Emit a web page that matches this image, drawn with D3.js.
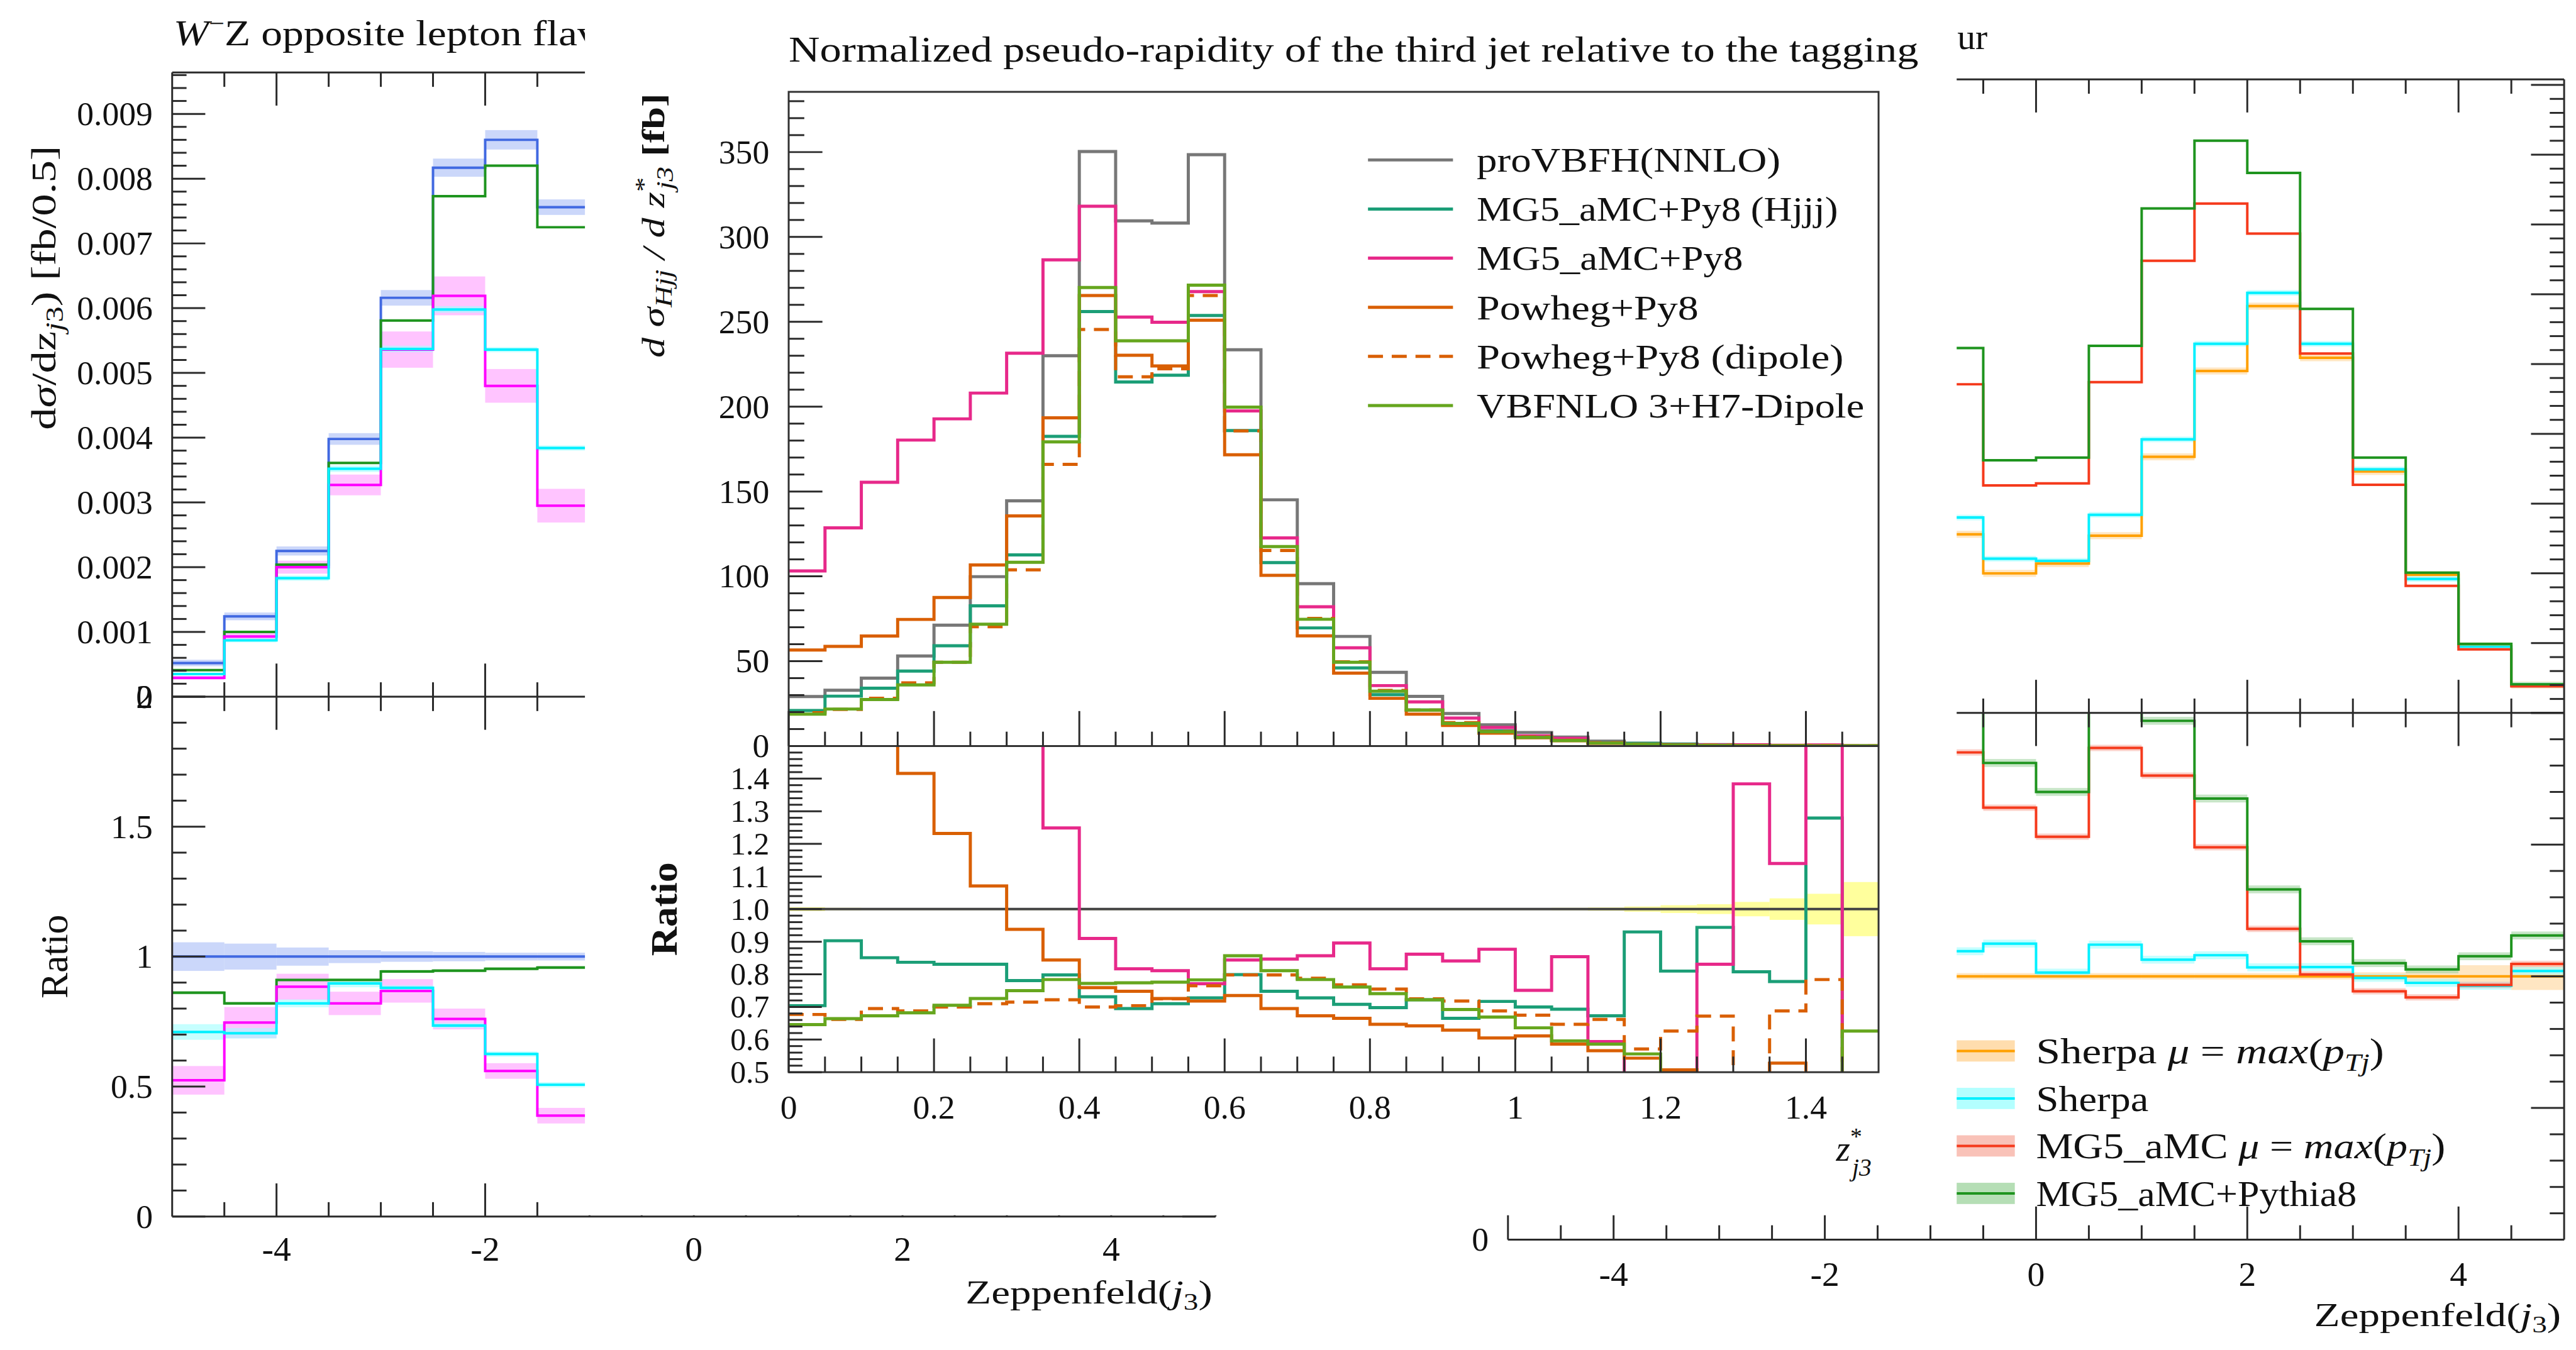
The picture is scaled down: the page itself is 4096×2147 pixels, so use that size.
<!DOCTYPE html>
<html>
<head>
<meta charset="utf-8">
<title>z*_j3 / Zeppenfeld comparison</title>
<script src="https://cdn.jsdelivr.net/npm/d3@7"></script>
<style>
body { margin: 0; background: #fff; }
svg { display: block; }
text { font-family: "Liberation Serif", "DejaVu Serif", serif; fill: #111; }
</style>
</head>
<body>
<div id="chartDiv"></div>
<script>
// ---- background, left: W-Z opposite lepton flavour (only the uncovered bins) ----
var wzEdges = [-5, -4.5, -4, -3.5, -3, -2.5, -2, -1.5, -1];
var wzBlue = [0.00052, 0.00124, 0.00225, 0.00398, 0.00616, 0.00817, 0.0086, 0.00756];
var wzBlueErr = [0.00005, 0.00006, 0.00007, 0.00009, 0.00012, 0.00014, 0.00015, 0.00012];
var wzGreen = [0.00041, 0.00100, 0.00204, 0.00361, 0.00581, 0.00773, 0.0082, 0.00725];
var wzMagenta = [0.00029, 0.00093, 0.0020, 0.00327, 0.00536, 0.00619, 0.0048, 0.00295];
var wzMagentaErr = [0.00003, 0.00007, 0.0001, 0.00016, 0.00028, 0.0003, 0.00026, 0.00026];
var wzCyan = [0.00035, 0.00087, 0.00183, 0.00352, 0.00537, 0.00598, 0.00536, 0.00384];
var wzCyanErr = [0.00002, 0.00003, 0.00004, 0.00005, 0.00005, 0.00005, 0.00004, 0.00004];

var wzRatioBlue = [1, 1, 1, 1, 1, 1, 1, 1];
var wzRatioBlueErr = [0.055, 0.05, 0.035, 0.025, 0.02, 0.018, 0.015, 0.015];
var wzRatioGreen = [0.861, 0.82, 0.91, 0.91, 0.943, 0.946, 0.953, 0.958];
var wzRatioMagenta = [0.524, 0.746, 0.884, 0.82, 0.868, 0.76, 0.56, 0.388];
var wzRatioMagentaErr = [0.055, 0.06, 0.05, 0.045, 0.045, 0.04, 0.03, 0.03];
var wzRatioCyan = [0.71, 0.705, 0.82, 0.897, 0.88, 0.735, 0.625, 0.507];
var wzRatioCyanErr = [0.03, 0.02, 0.015, 0.015, 0.01, 0.01, 0.01, 0.01];

// ---- background, right (left part hidden) ----
var rEdges = [-1, -0.5, 0, 0.5, 1, 1.5, 2, 2.5, 3, 3.5, 4, 4.5, 5];
var rOrange = [0.00256, 0.0020, 0.00214, 0.00254, 0.00367, 0.0049, 0.00583, 0.00509, 0.00346, 0.00198, 0.00096, 0.0004];
var rCyan = [0.0028, 0.00221, 0.00218, 0.00284, 0.00392, 0.00529, 0.00602, 0.00529, 0.00349, 0.00192, 0.00095, 0.0004];
var rRed = [0.00471, 0.00326, 0.00329, 0.00474, 0.00648, 0.0073, 0.00687, 0.00515, 0.00327, 0.00182, 0.00091, 0.00038];
var rGreen = [0.00523, 0.00362, 0.00366, 0.00526, 0.00723, 0.0082, 0.00774, 0.00579, 0.00366, 0.00201, 0.00099, 0.00041];

var rRatioOrange = [1, 1, 1, 1, 1, 1, 1, 1, 1, 1, 1, 1];
var rRatioOrangeErr = [0.012, 0.012, 0.012, 0.012, 0.012, 0.012, 0.012, 0.012, 0.015, 0.02, 0.042, 0.052];
var rRatioCyan = [1.095, 1.124, 1.014, 1.12, 1.063, 1.08, 1.034, 1.035, 0.994, 0.975, 0.964, 1.02];
var rRatioRed = [1.85, 1.64, 1.53, 1.867, 1.762, 1.49, 1.18, 1.007, 0.943, 0.92, 0.967, 1.047];
var rRatioGreen = [2.05, 1.81, 1.70, 2.07, 1.97, 1.675, 1.33, 1.133, 1.05, 1.026, 1.076, 1.155];
var rLegendNames = ["Sherpa μ = max(pTj)", "Sherpa", "MG5_aMC μ = max(pTj)", "MG5_aMC+Pythia8"];

// ---- foreground: z*_j3, bins of 0.05 ----
var zEdges = [0, 0.05, 0.1, 0.15, 0.2, 0.25, 0.3, 0.35, 0.4, 0.45, 0.5, 0.55, 0.6, 0.65, 0.7, 0.75,
  0.8, 0.85, 0.9, 0.95, 1, 1.05, 1.1, 1.15, 1.2, 1.25, 1.3, 1.35, 1.4, 1.45, 1.5];
var proVBFH = [29.2, 32.9, 40.0, 53.1, 71.2, 99.8, 144.5, 230, 350.3, 309.5, 308.2, 348.5, 233.5, 145.1, 95.7,
  64.6, 43.4, 29.3, 19.2, 12.5, 8.0, 5.3, 2.9, 1.7, 1.2, 0.8, 0.5, 0.4, 0.3, 0.2];
var mgHjjj = [20.9, 29.4, 34.1, 44.2, 59.1, 82.6, 112.6, 182.5, 256, 214.5, 218.5, 253.7, 185.9, 108.1, 69.6,
  46, 30.3, 21.2, 12.8, 9.0, 5.6, 3.7, 1.95, 1.6, 0.97, 0.75, 0.4, 0.31, 0.38, 0];
var mgPy8 = [103.2, 128.6, 155.4, 180.3, 192.8, 208, 231.5, 286.5, 318.1, 252.8, 249.7, 267.8, 197.5, 122.6, 82.1,
  57.9, 35.6, 26, 16.5, 10.9, 6.0, 4.5, 1.7, 0.3, 0.3, 0.66, 0.69, 0.46, 0.6, 0];
var powheg = [56.6, 58.7, 64.8, 74.6, 87.5, 106.7, 135.6, 193.4, 265.5, 230.3, 224, 250.9, 171.6, 100.6, 64.9,
  43, 28.1, 18.8, 12.1, 7.6, 4.9, 3.1, 1.64, 0.92, 0.61, 0.3, 0.2, 0.21, 0.1, 0.05];
var powhegDipole = [19.6, 21.6, 28.2, 37.2, 49.4, 70.3, 103.8, 166, 245.5, 217.6, 222.3, 265.5, 185.7, 115.2, 75.2,
  49.6, 32.8, 21.2, 13.8, 8.6, 5.4, 3.4, 1.92, 0.97, 0.75, 0.54, 0.2, 0.28, 0.24, 0.05];
var vbfnlo = [18.8, 21.8, 27.4, 36, 49.4, 71.8, 108.3, 179.2, 270.2, 238.8, 238.8, 271.6, 199.7, 117.5, 74.7,
  49.4, 32.3, 21.2, 13.3, 8.4, 5.1, 3.2, 1.7, 0.95, 0.5, 0.3, 0.2, 0.15, 0.1, 0.13];

var ratioRef = [1, 1, 1, 1, 1, 1, 1, 1, 1, 1, 1, 1, 1, 1, 1, 1, 1, 1, 1, 1, 1, 1, 1, 1, 1, 1, 1, 1, 1, 1];
var ratioRefErr = [0.006, 0.004, 0.003, 0.003, 0.003, 0.003, 0.003, 0.003, 0.003, 0.003, 0.003, 0.003, 0.003, 0.003, 0.003,
  0.003, 0.003, 0.003, 0.003, 0.003, 0.003, 0.004, 0.005, 0.008, 0.012, 0.015, 0.022, 0.033, 0.047, 0.083];
var ratioHjjj = [0.704, 0.903, 0.851, 0.837, 0.831, 0.831, 0.781, 0.798, 0.731, 0.695, 0.710, 0.728, 0.799, 0.748, 0.728,
  0.708, 0.698, 0.722, 0.665, 0.717, 0.700, 0.693, 0.673, 0.930, 0.810, 0.944, 0.808, 0.778, 1.279, 0];
var ratioMgPy8 = [3.5, 3.9, 3.9, 3.4, 2.7, 2.08, 1.6, 1.249, 0.910, 0.817, 0.811, 0.771, 0.844, 0.847, 0.857,
  0.896, 0.817, 0.862, 0.841, 0.877, 0.751, 0.854, 0.594, 0.2, 0.25, 0.831, 1.384, 1.140, 2.0, 0];
var ratioPowheg = [1.94, 1.78, 1.62, 1.416, 1.232, 1.071, 0.938, 0.844, 0.759, 0.748, 0.726, 0.718, 0.735, 0.695, 0.673,
  0.665, 0.647, 0.642, 0.629, 0.605, 0.611, 0.586, 0.566, 0.543, 0.507, 0.4, 0.4, 0.528, 0.3, 0.25];
var ratioDipole = [0.677, 0.662, 0.695, 0.688, 0.700, 0.710, 0.715, 0.722, 0.700, 0.704, 0.725, 0.765, 0.798, 0.798, 0.788,
  0.768, 0.755, 0.725, 0.718, 0.688, 0.675, 0.647, 0.662, 0.571, 0.626, 0.672, 0.4, 0.688, 0.784, 0.25];
var ratioVbfnlo = [0.646, 0.664, 0.673, 0.682, 0.705, 0.726, 0.750, 0.784, 0.772, 0.774, 0.776, 0.783, 0.857, 0.811, 0.784,
  0.761, 0.741, 0.722, 0.692, 0.669, 0.636, 0.596, 0.586, 0.556, 0.4, 0.4, 0.4, 0.4, 0.4, 0.626];
var fgLegendNames = ["proVBFH(NNLO)", "MG5_aMC+Py8 (Hjjj)", "MG5_aMC+Py8", "Powheg+Py8", "Powheg+Py8 (dipole)", "VBFNLO 3+H7-Dipole"];

// tick labels
var bgXTicks = [-4, -2, 0, 2, 4];
var bgXLabels = ["-4", "-2", "0", "2", "4"];
var bgYTicks = [0, 0.001, 0.002, 0.003, 0.004, 0.005, 0.006, 0.007, 0.008, 0.009];
var bgYLabels = ["0", "0.001", "0.002", "0.003", "0.004", "0.005", "0.006", "0.007", "0.008", "0.009"];
var bgRatioTicks = [0, 0.5, 1, 1.5, 2];
var bgRatioLabels = ["0", "0.5", "1", "1.5", "2"];
var fgXTicks = [0, 0.2, 0.4, 0.6, 0.8, 1, 1.2, 1.4];
var fgXLabels = ["0", "0.2", "0.4", "0.6", "0.8", "1", "1.2", "1.4"];
var fgYTicks = [0, 50, 100, 150, 200, 250, 300, 350];
var fgRatioTicks = [0.5, 0.6, 0.7, 0.8, 0.9, 1.0, 1.1, 1.2, 1.3, 1.4];
var fgRatioLabels = ["0.5", "0.6", "0.7", "0.8", "0.9", "1.0", "1.1", "1.2", "1.3", "1.4"];

var W = 4096, H = 2147, S = W / 4122;
var AX = "#2a2a2a";

var svg = d3.select("#chartDiv").append("svg")
  .attr("width", W)
  .attr("height", H);
var root = svg.append("g").attr("transform", "scale(" + S + ")");
var defs = svg.append("defs");

function errAt(e, i) { return Array.isArray(e) ? e[i] : e; }

function stepData(edges, vals) {
  var pts = vals.map(function (v, i) { return [edges[i], v]; });
  pts.push([edges[vals.length], vals[vals.length - 1]]);
  return pts;
}

function drawStep(g, x, y, edges, vals, color, width, dash) {
  var line = d3.line()
    .x(function (d) { return x(d[0]); })
    .y(function (d) { return y(d[1]); })
    .curve(d3.curveStepAfter);
  g.append("path")
    .datum(stepData(edges, vals))
    .attr("d", line)
    .attr("fill", "none")
    .attr("stroke", color)
    .attr("stroke-width", width)
    .attr("stroke-dasharray", dash || null);
}

function drawBand(g, x, y, edges, vals, errs, color, op) {
  g.append("g").selectAll("rect")
    .data(vals)
    .join("rect")
    .attr("x", function (d, i) { return x(edges[i]); })
    .attr("width", function (d, i) { return x(edges[i + 1]) - x(edges[i]); })
    .attr("y", function (d, i) { return y(d + errAt(errs, i)); })
    .attr("height", function (d, i) { return y(d - errAt(errs, i)) - y(d + errAt(errs, i)); })
    .attr("fill", color)
    .attr("opacity", op);
}

function steps(a, b, s) {
  return d3.range(Math.round(a / s), Math.round(b / s) + 1).map(function (k) { return +(k * s).toFixed(6); });
}
function minorOnly(all, majors) {
  return all.filter(function (v) { return !majors.some(function (m) { return Math.abs(m - v) < 1e-9; }); });
}

// vertical axis ticks: horizontal strokes at scale(v), starting at x, length len (+ right, - left)
function yTicks(g, scale, vals, x, len, w) {
  g.append("g").selectAll("line").data(vals).join("line")
    .attr("x1", x).attr("x2", x + len)
    .attr("y1", function (d) { return scale(d); })
    .attr("y2", function (d) { return scale(d); })
    .attr("stroke", AX).attr("stroke-width", w || 3);
}
function xTicks(g, scale, vals, y, len, w) {
  g.append("g").selectAll("line").data(vals).join("line")
    .attr("y1", y).attr("y2", y + len)
    .attr("x1", function (d) { return scale(d); })
    .attr("x2", function (d) { return scale(d); })
    .attr("stroke", AX).attr("stroke-width", w || 3);
}
function hline(g, x1, x2, y, w, c) {
  g.append("line").attr("x1", x1).attr("x2", x2).attr("y1", y).attr("y2", y)
    .attr("stroke", c || AX).attr("stroke-width", w || 3);
}
function vline(g, x, y1, y2, w, c) {
  g.append("line").attr("x1", x).attr("x2", x).attr("y1", y1).attr("y2", y2)
    .attr("stroke", c || AX).attr("stroke-width", w || 3);
}
function clip(id, x, y, w, h) {
  defs.append("clipPath").attr("id", id).append("rect")
    .attr("x", x).attr("y", y).attr("width", w).attr("height", h);
  return "url(#" + id + ")";
}

// "Zeppenfeld(j3)" style label
function zeppLabel(g, x, y, len) {
  var t = g.append("text").attr("x", x).attr("y", y)
    .attr("text-anchor", "end").attr("font-size", 54)
    .attr("textLength", len).attr("lengthAdjust", "spacingAndGlyphs");
  t.append("tspan").text("Zeppenfeld(");
  t.append("tspan").attr("font-style", "italic").text("j");
  t.append("tspan").attr("font-size", 38).attr("dy", 10).text("3");
  t.append("tspan").attr("dy", -10).text(")");
}

// ----- the two Rivet-style background figures -----
// cfg.covered: the left part sits under the pasted figure, so only labels that stay visible are written
function drawRivet(cfg) {
  var g = root.append("g");
  var x = d3.scaleLinear().domain([-5, 5]).range([cfg.x0, cfg.x1]);
  var y = d3.scaleLinear().domain([0, cfg.yMax]).range([cfg.yMid, cfg.y0]);
  var r = d3.scaleLinear().domain([0, 2]).range([cfg.y1, cfg.yMid]);

  var main = g.append("g").attr("clip-path", clip(cfg.id + "m", cfg.x0, cfg.y0, cfg.x1 - cfg.x0, cfg.yMid - cfg.y0));
  var rat = g.append("g").attr("clip-path", clip(cfg.id + "r", cfg.x0, cfg.yMid, cfg.x1 - cfg.x0, cfg.y1 - cfg.yMid));

  cfg.series.forEach(function (s) {
    if (s.err) drawBand(main, x, y, cfg.edges, s.values, s.err, s.band, 0.6);
  });
  cfg.series.forEach(function (s) { drawStep(main, x, y, cfg.edges, s.values, s.color, 4); });
  cfg.ratios.forEach(function (s) {
    if (s.err) drawBand(rat, x, r, cfg.edges, s.values, s.err, s.band, 0.6);
  });
  cfg.ratios.forEach(function (s) { drawStep(rat, x, r, cfg.edges, s.values, s.color, 4); });

  // frame
  hline(g, cfg.x0, cfg.x1, cfg.y0);
  hline(g, cfg.x0, cfg.x1, cfg.yMid);
  hline(g, cfg.x0, cfg.x1, cfg.y1);
  vline(g, cfg.x0, cfg.y0, cfg.y1);
  vline(g, cfg.x1, cfg.y0, cfg.y1);

  var xAll = steps(-4.5, 4.5, 0.5);
  var xMin = minorOnly(xAll, bgXTicks);
  [[cfg.y0, 1], [cfg.yMid, -1], [cfg.yMid, 1], [cfg.y1, -1]].forEach(function (p) {
    xTicks(g, x, bgXTicks, p[0], 53 * p[1]);
    xTicks(g, x, xMin, p[0], 23 * p[1]);
  });
  var yMinor = minorOnly(steps(0, cfg.yMax, 0.0002), bgYTicks);
  var rMinor = minorOnly(steps(0, 2, 0.1), bgRatioTicks);
  [[cfg.x0, 1], [cfg.x1, -1]].forEach(function (p) {
    yTicks(g, y, bgYTicks, p[0], 53 * p[1]);
    yTicks(g, y, yMinor, p[0], 23 * p[1]);
    yTicks(g, r, bgRatioTicks, p[0], 53 * p[1]);
    yTicks(g, r, rMinor, p[0], 23 * p[1]);
  });

  // tick labels
  var lab = g.append("g").attr("font-size", 54).attr("text-anchor", "end");
  if (!cfg.covered) {
    lab.selectAll(null).data(bgYTicks).join("text")
      .attr("x", cfg.x0 - 31).attr("y", function (d) { return y(d) + 18; })
      .text(function (d, i) { return bgYLabels[i]; });
  }
  lab.selectAll(null).data(cfg.covered ? [0] : bgRatioTicks).join("text")
    .attr("x", cfg.x0 - 31).attr("y", function (d) { return r(d) + 18; })
    .text(function (d, i) { return bgRatioLabels[i]; });
  g.append("g").attr("font-size", 56).attr("text-anchor", "middle")
    .selectAll("text").data(bgXTicks).join("text")
    .attr("x", function (d) { return x(d); })
    .attr("y", cfg.xLabY)
    .text(function (d, i) { return bgXLabels[i]; });

  if (cfg.covered) {
    // only the tail of the title shows past the pasted figure
    g.append("text").attr("x", 3132).attr("y", cfg.titleY).attr("font-size", 58).text("ur");
  } else {
    var t = g.append("text").attr("x", cfg.x0 + 2).attr("y", cfg.titleY)
      .attr("font-size", 58).attr("textLength", 771).attr("lengthAdjust", "spacingAndGlyphs");
    t.append("tspan").attr("font-style", "italic").text("W");
    t.append("tspan").attr("font-size", 38).attr("dy", -22).text("−");
    t.append("tspan").attr("dy", 22).text("Z opposite lepton flavour");

    var yl = g.append("text")
      .attr("transform", "translate(" + (cfg.x0 - 187) + "," + ((cfg.y0 + cfg.yMid) / 2 - 155) + ") rotate(-90)")
      .attr("text-anchor", "middle").attr("font-size", 56)
      .attr("textLength", 455).attr("lengthAdjust", "spacingAndGlyphs");
    yl.append("tspan").text("d");
    yl.append("tspan").attr("font-style", "italic").text("σ");
    yl.append("tspan").text("/dz");
    yl.append("tspan").attr("font-style", "italic").attr("font-size", 40).attr("dy", 12).text("j");
    yl.append("tspan").attr("font-size", 40).text("3");
    yl.append("tspan").attr("dy", -12).text(") [fb/0.5]");

    g.append("text")
      .attr("transform", "translate(" + (cfg.x0 - 168) + "," + r(1) + ") rotate(-90)")
      .attr("text-anchor", "middle").attr("font-size", 62).text("Ratio");
  }

  zeppLabel(g, cfg.x1 - 5, cfg.xTitleY, 395);
  return { g: g, x: x, y: y, r: r };
}

drawRivet({
  id: "wzL", x0: 275.5, x1: 1945, y0: 116, yMid: 1115, y1: 1947, yMax: 0.00964,
  titleY: 72, xLabY: 2018, xTitleY: 2086, edges: wzEdges,
  series: [
    { values: wzBlue, err: wzBlueErr, color: "#4169e1", band: "#a9bdf6" },
    { values: wzGreen, color: "#1e941e" },
    { values: wzMagenta, err: wzMagentaErr, color: "#ff00ff", band: "#ff9cff" },
    { values: wzCyan, err: wzCyanErr, color: "#00f0ff", band: "#a0ffff" }
  ],
  ratios: [
    { values: wzRatioBlue, err: wzRatioBlueErr, color: "#4169e1", band: "#a9bdf6" },
    { values: wzRatioGreen, err: 0.006, color: "#1e941e", band: "#9fd49f" },
    { values: wzRatioMagenta, err: wzRatioMagentaErr, color: "#ff00ff", band: "#ff9cff" },
    { values: wzRatioCyan, err: wzRatioCyanErr, color: "#00f0ff", band: "#a0ffff" }
  ]
});

var right = drawRivet({
  id: "wzR", covered: true, x0: 2413, x1: 4103, y0: 127, yMid: 1141, y1: 1984, yMax: 0.00908,
  titleY: 78, xLabY: 2058, xTitleY: 2122, edges: rEdges,
  series: [
    { values: rOrange, err: 0.00005, color: "#ffa000", band: "#ffd59a" },
    { values: rCyan, err: 0.00004, color: "#00f0ff", band: "#a0ffff" },
    { values: rRed, color: "#f53a1c" },
    { values: rGreen, color: "#1e941e" }
  ],
  ratios: [
    { values: rRatioOrange, err: rRatioOrangeErr, color: "#ffa000", band: "#ffd59a" },
    { values: rRatioCyan, err: 0.015, color: "#00f0ff", band: "#a0ffff" },
    { values: rRatioRed, err: 0.012, color: "#f53a1c", band: "#f8b3a6" },
    { values: rRatioGreen, err: 0.015, color: "#1e941e", band: "#a3d6a3" }
  ]
});

// legend of the right figure
var rLegColors = [["#ffa000", "#ffd59a"], ["#00f0ff", "#a0ffff"], ["#f53a1c", "#f8b3a6"], ["#1e941e", "#a3d6a3"]];
var rLegLen = [557, 180, 655, 513];
var rLeg = right.g.append("g");
rLegendNames.forEach(function (name, i) {
  var cy = 1682 + i * 76;
  rLeg.append("rect").attr("x", 3105).attr("y", cy - 17).attr("width", 119).attr("height", 34)
    .attr("fill", rLegColors[i][1]).attr("opacity", 0.8);
  hline(rLeg, 3105, 3224, cy, 4, rLegColors[i][0]);
  var t = rLeg.append("text").attr("x", 3258).attr("y", cy + 20).attr("font-size", 58)
    .attr("textLength", rLegLen[i]).attr("lengthAdjust", "spacingAndGlyphs");
  var m = name.match(/^(.*?) μ = max\(pTj\)$/);
  if (m) {
    t.append("tspan").text(m[1] + " ");
    t.append("tspan").attr("font-style", "italic").text("μ");
    t.append("tspan").text(" = ");
    t.append("tspan").attr("font-style", "italic").text("max");
    t.append("tspan").text("(");
    t.append("tspan").attr("font-style", "italic").text("p");
    t.append("tspan").attr("font-style", "italic").attr("font-size", 40).attr("dy", 12).text("Tj");
    t.append("tspan").attr("dy", -12).text(")");
  } else {
    t.text(name);
  }
});

// ----- foreground figure, pasted over the middle -----
var fg = root.append("g");
fg.append("rect").attr("x", 936).attr("y", 0).attr("width", 3131 - 936).attr("height", 1945).attr("fill", "#fff");

var fx = d3.scaleLinear().domain([0, 1.5]).range([1262, 3006]);
var fy = d3.scaleLinear().domain([0, 385.5]).range([1194, 147]);
var fr = d3.scaleLinear().domain([0.5, 1.5]).range([1716, 1194]);

var fgSeries = [
  { values: proVBFH, ratio: ratioRef, color: "#777777" },
  { values: mgHjjj, ratio: ratioHjjj, color: "#1b9e77" },
  { values: mgPy8, ratio: ratioMgPy8, color: "#e7298a" },
  { values: powheg, ratio: ratioPowheg, color: "#d95f02" },
  { values: powhegDipole, ratio: ratioDipole, color: "#d95f02", dash: "24,14" },
  { values: vbfnlo, ratio: ratioVbfnlo, color: "#66a61e" }
];

var fMain = fg.append("g").attr("clip-path", clip("fgm", 1262, 147, 3006 - 1262, 1194 - 147));
var fRat = fg.append("g").attr("clip-path", clip("fgr", 1262, 1194, 3006 - 1262, 1716 - 1194));

fgSeries.forEach(function (s) { drawStep(fMain, fx, fy, zEdges, s.values, s.color, 5, s.dash); });
drawBand(fRat, fx, fr, zEdges, ratioRef, ratioRefErr, "#ffff8c", 0.85);
fgSeries.forEach(function (s, i) {
  drawStep(fRat, fx, fr, zEdges, s.ratio, i === 0 ? "#444" : s.color, i === 0 ? 4 : 5, s.dash);
});

// frames and ticks
fg.append("rect").attr("x", 1262).attr("y", 147).attr("width", 3006 - 1262).attr("height", 1716 - 147)
  .attr("fill", "none").attr("stroke", "#333").attr("stroke-width", 3);
hline(fg, 1262, 3006, 1194, 3, "#333");

var fxMinor = minorOnly(steps(0.05, 1.45, 0.05), fgXTicks);
xTicks(fg, fx, fgXTicks, 1194, -56);
xTicks(fg, fx, fxMinor, 1194, -23);
xTicks(fg, fx, fgXTicks, 1716, -54);
xTicks(fg, fx, fxMinor, 1716, -25);
yTicks(fg, fy, fgYTicks, 1262, 54);
yTicks(fg, fy, minorOnly(steps(10, 380, 10), fgYTicks), 1262, 25);
yTicks(fg, fr, fgRatioTicks, 1262, 53);
yTicks(fg, fr, minorOnly(steps(0.52, 1.48, 0.02), fgRatioTicks), 1262, 22);

var fl = fg.append("g").attr("font-size", 54);
fl.append("g").attr("text-anchor", "end").selectAll("text").data(fgYTicks).join("text")
  .attr("x", 1231).attr("y", function (d) { return fy(d) + 18; })
  .text(function (d) { return d; });
fl.append("g").attr("text-anchor", "end").attr("font-size", 50).selectAll("text").data(fgRatioTicks).join("text")
  .attr("x", 1231).attr("y", function (d) { return fr(d) + 17; })
  .text(function (d, i) { return fgRatioLabels[i]; });
fl.append("g").attr("text-anchor", "middle").selectAll("text").data(fgXTicks).join("text")
  .attr("x", function (d) { return fx(d); }).attr("y", 1790)
  .text(function (d, i) { return fgXLabels[i]; });

// title
fg.append("text").attr("x", 1262).attr("y", 99).attr("font-size", 58)
  .attr("textLength", 1808).attr("lengthAdjust", "spacingAndGlyphs")
  .text("Normalized pseudo-rapidity of the third jet relative to the tagging");

// y label
var fyl = fg.append("text")
  .attr("transform", "translate(1063,361) rotate(-90)")
  .attr("text-anchor", "middle").attr("font-size", 52)
  .attr("textLength", 423).attr("lengthAdjust", "spacingAndGlyphs");
fyl.append("tspan").attr("font-style", "italic").text("d σ");
fyl.append("tspan").attr("font-style", "italic").attr("font-size", 38).attr("dy", 12).text("Hjj");
fyl.append("tspan").attr("font-style", "italic").attr("dy", -12).text(" / d z");
fyl.append("tspan").attr("font-size", 38).attr("dy", -20).text("*");
fyl.append("tspan").attr("font-style", "italic").attr("font-size", 38).attr("dx", -16).attr("dy", 34).text("j3");
fyl.append("tspan").attr("font-weight", "bold").attr("dy", -14).text(" [fb]");

fg.append("text")
  .attr("transform", "translate(1083,1455) rotate(-90)")
  .attr("text-anchor", "middle").attr("font-size", 60).attr("font-weight", "bold")
  .attr("textLength", 150).attr("lengthAdjust", "spacingAndGlyphs").text("Ratio");

var zl = fg.append("text").attr("x", 2938).attr("y", 1858).attr("font-size", 58).attr("font-style", "italic");
zl.append("tspan").text("z");
zl.append("tspan").attr("font-size", 38).attr("font-style", "normal").attr("dy", -26).text("*");
zl.append("tspan").attr("font-size", 40).attr("dx", -16).attr("dy", 50).text("j3");

// legend
var fLeg = fg.append("g");
var fLegLen = [486, 578, 426, 355, 587, 620];
fgLegendNames.forEach(function (name, i) {
  var cy = 256 + i * 78.6;
  var s = fgSeries[i];
  fLeg.append("line").attr("x1", 2189).attr("x2", 2325).attr("y1", cy).attr("y2", cy)
    .attr("stroke", s.color).attr("stroke-width", 5).attr("stroke-dasharray", s.dash || null);
  fLeg.append("text").attr("x", 2363).attr("y", cy + 19).attr("font-size", 56)
    .attr("textLength", fLegLen[i]).attr("lengthAdjust", "spacingAndGlyphs").text(name);
});
</script>
</body>
</html>
